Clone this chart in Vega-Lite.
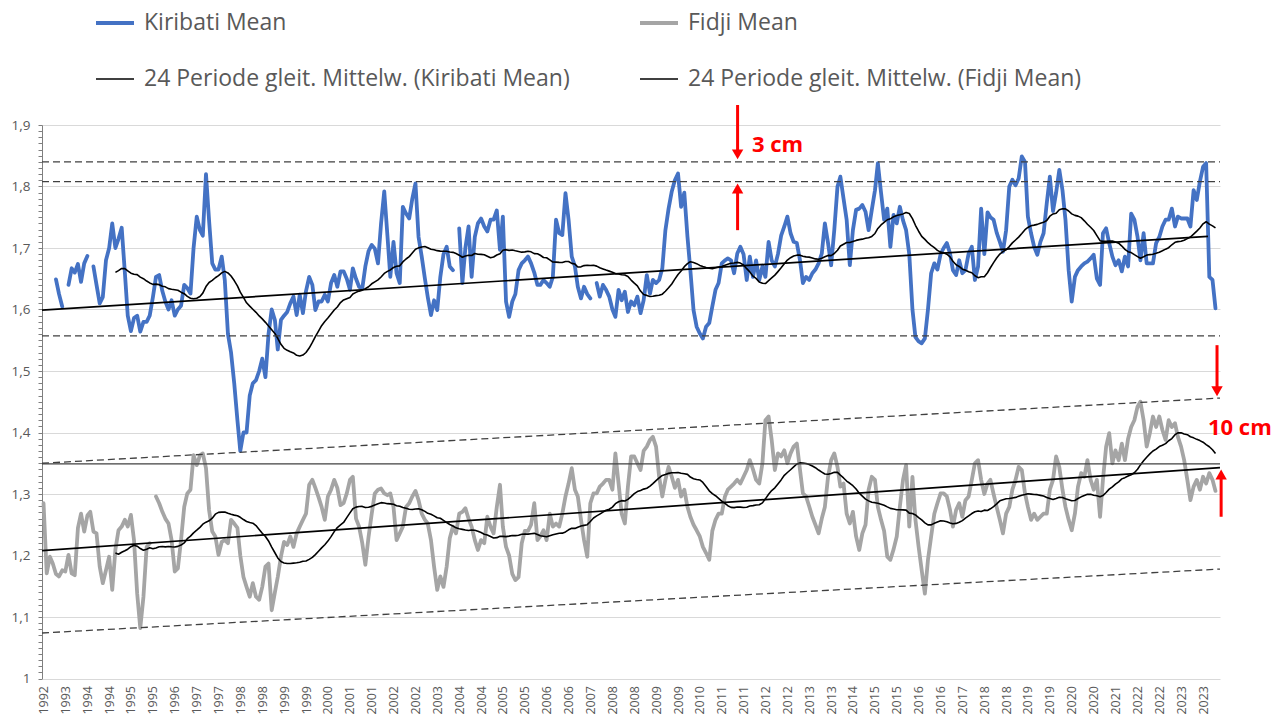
{
  "$schema": "https://vega.github.io/schema/vega-lite/v6.json",
  "autosize": {"type": "none"},
  "width": 1178,
  "height": 553.5,
  "padding": {"left": 42, "top": 125, "right": 63, "bottom": 46.5},
  "background": "white",
  "config": {
    "font": "Open Sans",
    "view": {"stroke": null},
    "legend": {
      "symbolType": "stroke",
      "symbolSize": 1444,
      "labelFontSize": 23,
      "labelFont": "Open Sans",
      "labelColor": "#595959",
      "labelLimit": 0,
      "columnPadding": 62,
      "rowPadding": 24,
      "labelOffset": 8,
      "symbolOpacity": 1
    }
  },
  "datasets": {
    "sea": [
      {"d":"1992-12-01","Kiribati Mean":null,"Fidji Mean":1.285},
      {"d":"1993-01-01","Kiribati Mean":null,"Fidji Mean":1.171},
      {"d":"1993-02-01","Kiribati Mean":null,"Fidji Mean":1.198},
      {"d":"1993-03-01","Kiribati Mean":null,"Fidji Mean":1.187},
      {"d":"1993-04-01","Kiribati Mean":1.649,"Fidji Mean":1.170},
      {"d":"1993-05-01","Kiribati Mean":1.625,"Fidji Mean":1.166},
      {"d":"1993-06-01","Kiribati Mean":1.605,"Fidji Mean":1.176},
      {"d":"1993-07-01","Kiribati Mean":null,"Fidji Mean":1.174},
      {"d":"1993-08-01","Kiribati Mean":1.640,"Fidji Mean":1.201},
      {"d":"1993-09-01","Kiribati Mean":1.667,"Fidji Mean":1.171},
      {"d":"1993-10-01","Kiribati Mean":1.660,"Fidji Mean":1.168},
      {"d":"1993-11-01","Kiribati Mean":1.674,"Fidji Mean":1.245},
      {"d":"1993-12-01","Kiribati Mean":1.645,"Fidji Mean":1.268},
      {"d":"1994-01-01","Kiribati Mean":1.675,"Fidji Mean":1.239},
      {"d":"1994-02-01","Kiribati Mean":1.687,"Fidji Mean":1.265},
      {"d":"1994-03-01","Kiribati Mean":null,"Fidji Mean":1.271},
      {"d":"1994-04-01","Kiribati Mean":1.670,"Fidji Mean":1.239},
      {"d":"1994-05-01","Kiribati Mean":1.640,"Fidji Mean":1.236},
      {"d":"1994-06-01","Kiribati Mean":1.610,"Fidji Mean":1.182},
      {"d":"1994-07-01","Kiribati Mean":1.620,"Fidji Mean":1.155},
      {"d":"1994-08-01","Kiribati Mean":1.680,"Fidji Mean":1.176},
      {"d":"1994-09-01","Kiribati Mean":1.700,"Fidji Mean":1.198},
      {"d":"1994-10-01","Kiribati Mean":1.740,"Fidji Mean":1.144},
      {"d":"1994-11-01","Kiribati Mean":1.700,"Fidji Mean":1.210},
      {"d":"1994-12-01","Kiribati Mean":1.715,"Fidji Mean":1.241},
      {"d":"1995-01-01","Kiribati Mean":1.733,"Fidji Mean":1.247},
      {"d":"1995-02-01","Kiribati Mean":1.660,"Fidji Mean":1.258},
      {"d":"1995-03-01","Kiribati Mean":1.590,"Fidji Mean":1.247},
      {"d":"1995-04-01","Kiribati Mean":1.565,"Fidji Mean":1.266},
      {"d":"1995-05-01","Kiribati Mean":1.586,"Fidji Mean":1.225},
      {"d":"1995-06-01","Kiribati Mean":1.590,"Fidji Mean":1.138},
      {"d":"1995-07-01","Kiribati Mean":1.564,"Fidji Mean":1.082},
      {"d":"1995-08-01","Kiribati Mean":1.580,"Fidji Mean":1.133},
      {"d":"1995-09-01","Kiribati Mean":1.580,"Fidji Mean":1.214},
      {"d":"1995-10-01","Kiribati Mean":1.590,"Fidji Mean":1.220},
      {"d":"1995-11-01","Kiribati Mean":1.620,"Fidji Mean":null},
      {"d":"1995-12-01","Kiribati Mean":1.653,"Fidji Mean":1.296},
      {"d":"1996-01-01","Kiribati Mean":1.656,"Fidji Mean":1.285},
      {"d":"1996-02-01","Kiribati Mean":1.630,"Fidji Mean":1.271},
      {"d":"1996-03-01","Kiribati Mean":1.613,"Fidji Mean":1.260},
      {"d":"1996-04-01","Kiribati Mean":1.600,"Fidji Mean":1.252},
      {"d":"1996-05-01","Kiribati Mean":1.615,"Fidji Mean":1.225},
      {"d":"1996-06-01","Kiribati Mean":1.590,"Fidji Mean":1.174},
      {"d":"1996-07-01","Kiribati Mean":1.600,"Fidji Mean":1.179},
      {"d":"1996-08-01","Kiribati Mean":1.606,"Fidji Mean":1.225},
      {"d":"1996-09-01","Kiribati Mean":1.640,"Fidji Mean":1.279},
      {"d":"1996-10-01","Kiribati Mean":1.635,"Fidji Mean":1.301},
      {"d":"1996-11-01","Kiribati Mean":1.626,"Fidji Mean":1.307},
      {"d":"1996-12-01","Kiribati Mean":1.700,"Fidji Mean":1.363},
      {"d":"1997-01-01","Kiribati Mean":1.751,"Fidji Mean":1.347},
      {"d":"1997-02-01","Kiribati Mean":1.729,"Fidji Mean":1.363},
      {"d":"1997-03-01","Kiribati Mean":1.720,"Fidji Mean":1.366},
      {"d":"1997-04-01","Kiribati Mean":1.820,"Fidji Mean":1.342},
      {"d":"1997-05-01","Kiribati Mean":1.745,"Fidji Mean":1.274},
      {"d":"1997-06-01","Kiribati Mean":1.675,"Fidji Mean":1.239},
      {"d":"1997-07-01","Kiribati Mean":1.665,"Fidji Mean":1.231},
      {"d":"1997-08-01","Kiribati Mean":1.665,"Fidji Mean":1.201},
      {"d":"1997-09-01","Kiribati Mean":1.686,"Fidji Mean":1.222},
      {"d":"1997-10-01","Kiribati Mean":1.648,"Fidji Mean":1.225},
      {"d":"1997-11-01","Kiribati Mean":1.560,"Fidji Mean":1.220},
      {"d":"1997-12-01","Kiribati Mean":1.530,"Fidji Mean":1.258},
      {"d":"1998-01-01","Kiribati Mean":1.480,"Fidji Mean":1.252},
      {"d":"1998-02-01","Kiribati Mean":1.420,"Fidji Mean":1.245},
      {"d":"1998-03-01","Kiribati Mean":1.370,"Fidji Mean":1.200},
      {"d":"1998-04-01","Kiribati Mean":1.400,"Fidji Mean":1.165},
      {"d":"1998-05-01","Kiribati Mean":1.400,"Fidji Mean":1.149},
      {"d":"1998-06-01","Kiribati Mean":1.460,"Fidji Mean":1.133},
      {"d":"1998-07-01","Kiribati Mean":1.480,"Fidji Mean":1.155},
      {"d":"1998-08-01","Kiribati Mean":1.485,"Fidji Mean":1.133},
      {"d":"1998-09-01","Kiribati Mean":1.500,"Fidji Mean":1.128},
      {"d":"1998-10-01","Kiribati Mean":1.520,"Fidji Mean":1.149},
      {"d":"1998-11-01","Kiribati Mean":1.490,"Fidji Mean":1.182},
      {"d":"1998-12-01","Kiribati Mean":1.560,"Fidji Mean":1.187},
      {"d":"1999-01-01","Kiribati Mean":1.600,"Fidji Mean":1.111},
      {"d":"1999-02-01","Kiribati Mean":1.583,"Fidji Mean":1.140},
      {"d":"1999-03-01","Kiribati Mean":1.535,"Fidji Mean":1.165},
      {"d":"1999-04-01","Kiribati Mean":1.583,"Fidji Mean":1.198},
      {"d":"1999-05-01","Kiribati Mean":1.590,"Fidji Mean":1.222},
      {"d":"1999-06-01","Kiribati Mean":1.596,"Fidji Mean":1.217},
      {"d":"1999-07-01","Kiribati Mean":1.610,"Fidji Mean":1.231},
      {"d":"1999-08-01","Kiribati Mean":1.621,"Fidji Mean":1.214},
      {"d":"1999-09-01","Kiribati Mean":1.591,"Fidji Mean":1.236},
      {"d":"1999-10-01","Kiribati Mean":1.624,"Fidji Mean":1.247},
      {"d":"1999-11-01","Kiribati Mean":1.594,"Fidji Mean":1.258},
      {"d":"1999-12-01","Kiribati Mean":1.630,"Fidji Mean":1.268},
      {"d":"2000-01-01","Kiribati Mean":1.653,"Fidji Mean":1.315},
      {"d":"2000-02-01","Kiribati Mean":1.640,"Fidji Mean":1.323},
      {"d":"2000-03-01","Kiribati Mean":1.599,"Fidji Mean":1.310},
      {"d":"2000-04-01","Kiribati Mean":1.613,"Fidji Mean":1.295},
      {"d":"2000-05-01","Kiribati Mean":1.613,"Fidji Mean":1.279},
      {"d":"2000-06-01","Kiribati Mean":1.624,"Fidji Mean":1.258},
      {"d":"2000-07-01","Kiribati Mean":1.613,"Fidji Mean":1.296},
      {"d":"2000-08-01","Kiribati Mean":1.643,"Fidji Mean":1.307},
      {"d":"2000-09-01","Kiribati Mean":1.656,"Fidji Mean":1.323},
      {"d":"2000-10-01","Kiribati Mean":1.637,"Fidji Mean":1.310},
      {"d":"2000-11-01","Kiribati Mean":1.662,"Fidji Mean":1.282},
      {"d":"2000-12-01","Kiribati Mean":1.662,"Fidji Mean":1.285},
      {"d":"2001-01-01","Kiribati Mean":1.650,"Fidji Mean":1.301},
      {"d":"2001-02-01","Kiribati Mean":1.632,"Fidji Mean":1.323},
      {"d":"2001-03-01","Kiribati Mean":1.667,"Fidji Mean":1.328},
      {"d":"2001-04-01","Kiribati Mean":1.650,"Fidji Mean":1.260},
      {"d":"2001-05-01","Kiribati Mean":1.637,"Fidji Mean":1.247},
      {"d":"2001-06-01","Kiribati Mean":1.634,"Fidji Mean":1.220},
      {"d":"2001-07-01","Kiribati Mean":1.670,"Fidji Mean":1.185},
      {"d":"2001-08-01","Kiribati Mean":1.695,"Fidji Mean":1.230},
      {"d":"2001-09-01","Kiribati Mean":1.705,"Fidji Mean":1.268},
      {"d":"2001-10-01","Kiribati Mean":1.699,"Fidji Mean":1.301},
      {"d":"2001-11-01","Kiribati Mean":1.675,"Fidji Mean":1.307},
      {"d":"2001-12-01","Kiribati Mean":1.740,"Fidji Mean":1.309},
      {"d":"2002-01-01","Kiribati Mean":1.792,"Fidji Mean":1.301},
      {"d":"2002-02-01","Kiribati Mean":1.720,"Fidji Mean":1.298},
      {"d":"2002-03-01","Kiribati Mean":1.653,"Fidji Mean":1.301},
      {"d":"2002-04-01","Kiribati Mean":1.710,"Fidji Mean":1.279},
      {"d":"2002-05-01","Kiribati Mean":1.659,"Fidji Mean":1.225},
      {"d":"2002-06-01","Kiribati Mean":1.643,"Fidji Mean":1.236},
      {"d":"2002-07-01","Kiribati Mean":1.767,"Fidji Mean":1.247},
      {"d":"2002-08-01","Kiribati Mean":1.756,"Fidji Mean":1.279},
      {"d":"2002-09-01","Kiribati Mean":1.748,"Fidji Mean":1.285},
      {"d":"2002-10-01","Kiribati Mean":1.780,"Fidji Mean":1.296},
      {"d":"2002-11-01","Kiribati Mean":1.805,"Fidji Mean":1.305},
      {"d":"2002-12-01","Kiribati Mean":1.718,"Fidji Mean":1.290},
      {"d":"2003-01-01","Kiribati Mean":1.686,"Fidji Mean":1.268},
      {"d":"2003-02-01","Kiribati Mean":1.650,"Fidji Mean":1.258},
      {"d":"2003-03-01","Kiribati Mean":1.620,"Fidji Mean":1.252},
      {"d":"2003-04-01","Kiribati Mean":1.591,"Fidji Mean":1.225},
      {"d":"2003-05-01","Kiribati Mean":1.615,"Fidji Mean":1.182},
      {"d":"2003-06-01","Kiribati Mean":1.599,"Fidji Mean":1.144},
      {"d":"2003-07-01","Kiribati Mean":1.653,"Fidji Mean":1.166},
      {"d":"2003-08-01","Kiribati Mean":1.690,"Fidji Mean":1.149},
      {"d":"2003-09-01","Kiribati Mean":1.702,"Fidji Mean":1.182},
      {"d":"2003-10-01","Kiribati Mean":1.670,"Fidji Mean":1.228},
      {"d":"2003-11-01","Kiribati Mean":1.664,"Fidji Mean":1.247},
      {"d":"2003-12-01","Kiribati Mean":null,"Fidji Mean":1.236},
      {"d":"2004-01-01","Kiribati Mean":1.732,"Fidji Mean":1.268},
      {"d":"2004-02-01","Kiribati Mean":1.643,"Fidji Mean":1.271},
      {"d":"2004-03-01","Kiribati Mean":1.700,"Fidji Mean":1.277},
      {"d":"2004-04-01","Kiribati Mean":1.735,"Fidji Mean":1.260},
      {"d":"2004-05-01","Kiribati Mean":1.653,"Fidji Mean":1.247},
      {"d":"2004-06-01","Kiribati Mean":1.718,"Fidji Mean":1.225},
      {"d":"2004-07-01","Kiribati Mean":1.740,"Fidji Mean":1.209},
      {"d":"2004-08-01","Kiribati Mean":1.748,"Fidji Mean":1.225},
      {"d":"2004-09-01","Kiribati Mean":1.735,"Fidji Mean":1.220},
      {"d":"2004-10-01","Kiribati Mean":1.727,"Fidji Mean":1.263},
      {"d":"2004-11-01","Kiribati Mean":1.746,"Fidji Mean":1.247},
      {"d":"2004-12-01","Kiribati Mean":1.746,"Fidji Mean":1.236},
      {"d":"2005-01-01","Kiribati Mean":1.761,"Fidji Mean":1.279},
      {"d":"2005-02-01","Kiribati Mean":1.697,"Fidji Mean":1.315},
      {"d":"2005-03-01","Kiribati Mean":1.751,"Fidji Mean":1.247},
      {"d":"2005-04-01","Kiribati Mean":1.613,"Fidji Mean":1.214},
      {"d":"2005-05-01","Kiribati Mean":1.588,"Fidji Mean":1.200},
      {"d":"2005-06-01","Kiribati Mean":1.613,"Fidji Mean":1.170},
      {"d":"2005-07-01","Kiribati Mean":1.625,"Fidji Mean":1.160},
      {"d":"2005-08-01","Kiribati Mean":1.664,"Fidji Mean":1.165},
      {"d":"2005-09-01","Kiribati Mean":1.675,"Fidji Mean":1.220},
      {"d":"2005-10-01","Kiribati Mean":1.680,"Fidji Mean":1.240},
      {"d":"2005-11-01","Kiribati Mean":1.686,"Fidji Mean":1.240},
      {"d":"2005-12-01","Kiribati Mean":1.675,"Fidji Mean":1.250},
      {"d":"2006-01-01","Kiribati Mean":1.660,"Fidji Mean":1.285},
      {"d":"2006-02-01","Kiribati Mean":1.640,"Fidji Mean":1.225},
      {"d":"2006-03-01","Kiribati Mean":1.640,"Fidji Mean":1.231},
      {"d":"2006-04-01","Kiribati Mean":1.648,"Fidji Mean":1.241},
      {"d":"2006-05-01","Kiribati Mean":1.643,"Fidji Mean":1.225},
      {"d":"2006-06-01","Kiribati Mean":1.637,"Fidji Mean":1.268},
      {"d":"2006-07-01","Kiribati Mean":1.653,"Fidji Mean":1.247},
      {"d":"2006-08-01","Kiribati Mean":1.746,"Fidji Mean":1.252},
      {"d":"2006-09-01","Kiribati Mean":1.724,"Fidji Mean":1.247},
      {"d":"2006-10-01","Kiribati Mean":1.721,"Fidji Mean":1.268},
      {"d":"2006-11-01","Kiribati Mean":1.789,"Fidji Mean":1.296},
      {"d":"2006-12-01","Kiribati Mean":1.746,"Fidji Mean":1.317},
      {"d":"2007-01-01","Kiribati Mean":1.686,"Fidji Mean":1.342},
      {"d":"2007-02-01","Kiribati Mean":1.670,"Fidji Mean":1.307},
      {"d":"2007-03-01","Kiribati Mean":1.637,"Fidji Mean":1.296},
      {"d":"2007-04-01","Kiribati Mean":1.618,"Fidji Mean":1.258},
      {"d":"2007-05-01","Kiribati Mean":1.637,"Fidji Mean":1.225},
      {"d":"2007-06-01","Kiribati Mean":1.625,"Fidji Mean":1.198},
      {"d":"2007-07-01","Kiribati Mean":1.618,"Fidji Mean":1.285},
      {"d":"2007-08-01","Kiribati Mean":null,"Fidji Mean":1.301},
      {"d":"2007-09-01","Kiribati Mean":1.643,"Fidji Mean":1.301},
      {"d":"2007-10-01","Kiribati Mean":1.621,"Fidji Mean":1.312},
      {"d":"2007-11-01","Kiribati Mean":1.640,"Fidji Mean":1.317},
      {"d":"2007-12-01","Kiribati Mean":1.632,"Fidji Mean":1.323},
      {"d":"2008-01-01","Kiribati Mean":1.621,"Fidji Mean":1.323},
      {"d":"2008-02-01","Kiribati Mean":1.600,"Fidji Mean":1.307},
      {"d":"2008-03-01","Kiribati Mean":1.588,"Fidji Mean":1.366},
      {"d":"2008-04-01","Kiribati Mean":1.632,"Fidji Mean":1.317},
      {"d":"2008-05-01","Kiribati Mean":1.615,"Fidji Mean":1.268},
      {"d":"2008-06-01","Kiribati Mean":1.629,"Fidji Mean":1.252},
      {"d":"2008-07-01","Kiribati Mean":1.596,"Fidji Mean":1.312},
      {"d":"2008-08-01","Kiribati Mean":1.613,"Fidji Mean":1.361},
      {"d":"2008-09-01","Kiribati Mean":1.607,"Fidji Mean":1.361},
      {"d":"2008-10-01","Kiribati Mean":1.621,"Fidji Mean":1.350},
      {"d":"2008-11-01","Kiribati Mean":1.594,"Fidji Mean":1.339},
      {"d":"2008-12-01","Kiribati Mean":1.615,"Fidji Mean":1.370},
      {"d":"2009-01-01","Kiribati Mean":1.656,"Fidji Mean":1.377},
      {"d":"2009-02-01","Kiribati Mean":1.626,"Fidji Mean":1.388},
      {"d":"2009-03-01","Kiribati Mean":1.648,"Fidji Mean":1.393},
      {"d":"2009-04-01","Kiribati Mean":1.643,"Fidji Mean":1.377},
      {"d":"2009-05-01","Kiribati Mean":1.648,"Fidji Mean":1.328},
      {"d":"2009-06-01","Kiribati Mean":1.667,"Fidji Mean":1.296},
      {"d":"2009-07-01","Kiribati Mean":1.729,"Fidji Mean":1.323},
      {"d":"2009-08-01","Kiribati Mean":1.764,"Fidji Mean":1.344},
      {"d":"2009-09-01","Kiribati Mean":1.792,"Fidji Mean":1.328},
      {"d":"2009-10-01","Kiribati Mean":1.810,"Fidji Mean":1.310},
      {"d":"2009-11-01","Kiribati Mean":1.821,"Fidji Mean":1.323},
      {"d":"2009-12-01","Kiribati Mean":1.767,"Fidji Mean":1.296},
      {"d":"2010-01-01","Kiribati Mean":1.790,"Fidji Mean":1.307},
      {"d":"2010-02-01","Kiribati Mean":1.718,"Fidji Mean":1.279},
      {"d":"2010-03-01","Kiribati Mean":1.664,"Fidji Mean":1.263},
      {"d":"2010-04-01","Kiribati Mean":1.599,"Fidji Mean":1.250},
      {"d":"2010-05-01","Kiribati Mean":1.572,"Fidji Mean":1.241},
      {"d":"2010-06-01","Kiribati Mean":1.561,"Fidji Mean":1.231},
      {"d":"2010-07-01","Kiribati Mean":1.553,"Fidji Mean":1.214},
      {"d":"2010-08-01","Kiribati Mean":1.572,"Fidji Mean":1.204},
      {"d":"2010-09-01","Kiribati Mean":1.578,"Fidji Mean":1.193},
      {"d":"2010-10-01","Kiribati Mean":1.605,"Fidji Mean":1.240},
      {"d":"2010-11-01","Kiribati Mean":1.632,"Fidji Mean":1.258},
      {"d":"2010-12-01","Kiribati Mean":1.643,"Fidji Mean":1.268},
      {"d":"2011-01-01","Kiribati Mean":1.675,"Fidji Mean":1.268},
      {"d":"2011-02-01","Kiribati Mean":1.680,"Fidji Mean":1.296},
      {"d":"2011-03-01","Kiribati Mean":1.683,"Fidji Mean":1.307},
      {"d":"2011-04-01","Kiribati Mean":1.680,"Fidji Mean":1.312},
      {"d":"2011-05-01","Kiribati Mean":1.659,"Fidji Mean":1.317},
      {"d":"2011-06-01","Kiribati Mean":1.691,"Fidji Mean":1.323},
      {"d":"2011-07-01","Kiribati Mean":1.702,"Fidji Mean":1.317},
      {"d":"2011-08-01","Kiribati Mean":1.690,"Fidji Mean":1.328},
      {"d":"2011-09-01","Kiribati Mean":1.648,"Fidji Mean":1.339},
      {"d":"2011-10-01","Kiribati Mean":1.686,"Fidji Mean":1.355},
      {"d":"2011-11-01","Kiribati Mean":1.653,"Fidji Mean":1.340},
      {"d":"2011-12-01","Kiribati Mean":1.680,"Fidji Mean":1.323},
      {"d":"2012-01-01","Kiribati Mean":1.648,"Fidji Mean":1.317},
      {"d":"2012-02-01","Kiribati Mean":1.670,"Fidji Mean":1.350},
      {"d":"2012-03-01","Kiribati Mean":1.653,"Fidji Mean":1.420},
      {"d":"2012-04-01","Kiribati Mean":1.710,"Fidji Mean":1.426},
      {"d":"2012-05-01","Kiribati Mean":1.680,"Fidji Mean":1.388},
      {"d":"2012-06-01","Kiribati Mean":1.670,"Fidji Mean":1.339},
      {"d":"2012-07-01","Kiribati Mean":1.690,"Fidji Mean":1.366},
      {"d":"2012-08-01","Kiribati Mean":1.720,"Fidji Mean":1.361},
      {"d":"2012-09-01","Kiribati Mean":1.735,"Fidji Mean":1.371},
      {"d":"2012-10-01","Kiribati Mean":1.751,"Fidji Mean":1.350},
      {"d":"2012-11-01","Kiribati Mean":1.724,"Fidji Mean":1.366},
      {"d":"2012-12-01","Kiribati Mean":1.710,"Fidji Mean":1.377},
      {"d":"2013-01-01","Kiribati Mean":1.708,"Fidji Mean":1.382},
      {"d":"2013-02-01","Kiribati Mean":1.680,"Fidji Mean":1.339},
      {"d":"2013-03-01","Kiribati Mean":1.643,"Fidji Mean":1.301},
      {"d":"2013-04-01","Kiribati Mean":1.653,"Fidji Mean":1.296},
      {"d":"2013-05-01","Kiribati Mean":1.648,"Fidji Mean":1.280},
      {"d":"2013-06-01","Kiribati Mean":1.659,"Fidji Mean":1.263},
      {"d":"2013-07-01","Kiribati Mean":1.665,"Fidji Mean":1.250},
      {"d":"2013-08-01","Kiribati Mean":1.675,"Fidji Mean":1.236},
      {"d":"2013-09-01","Kiribati Mean":1.691,"Fidji Mean":1.260},
      {"d":"2013-10-01","Kiribati Mean":1.740,"Fidji Mean":1.279},
      {"d":"2013-11-01","Kiribati Mean":1.708,"Fidji Mean":1.328},
      {"d":"2013-12-01","Kiribati Mean":1.672,"Fidji Mean":1.355},
      {"d":"2014-01-01","Kiribati Mean":1.730,"Fidji Mean":1.366},
      {"d":"2014-02-01","Kiribati Mean":1.800,"Fidji Mean":1.344},
      {"d":"2014-03-01","Kiribati Mean":1.816,"Fidji Mean":1.312},
      {"d":"2014-04-01","Kiribati Mean":1.780,"Fidji Mean":1.317},
      {"d":"2014-05-01","Kiribati Mean":1.746,"Fidji Mean":1.268},
      {"d":"2014-06-01","Kiribati Mean":1.672,"Fidji Mean":1.252},
      {"d":"2014-07-01","Kiribati Mean":1.729,"Fidji Mean":1.271},
      {"d":"2014-08-01","Kiribati Mean":1.762,"Fidji Mean":1.231},
      {"d":"2014-09-01","Kiribati Mean":1.764,"Fidji Mean":1.209},
      {"d":"2014-10-01","Kiribati Mean":1.770,"Fidji Mean":1.236},
      {"d":"2014-11-01","Kiribati Mean":1.759,"Fidji Mean":1.250},
      {"d":"2014-12-01","Kiribati Mean":1.729,"Fidji Mean":1.307},
      {"d":"2015-01-01","Kiribati Mean":1.762,"Fidji Mean":1.328},
      {"d":"2015-02-01","Kiribati Mean":1.794,"Fidji Mean":1.323},
      {"d":"2015-03-01","Kiribati Mean":1.838,"Fidji Mean":1.279},
      {"d":"2015-04-01","Kiribati Mean":1.790,"Fidji Mean":1.258},
      {"d":"2015-05-01","Kiribati Mean":1.746,"Fidji Mean":1.240},
      {"d":"2015-06-01","Kiribati Mean":1.764,"Fidji Mean":1.198},
      {"d":"2015-07-01","Kiribati Mean":1.702,"Fidji Mean":1.193},
      {"d":"2015-08-01","Kiribati Mean":1.754,"Fidji Mean":1.210},
      {"d":"2015-09-01","Kiribati Mean":1.740,"Fidji Mean":1.231},
      {"d":"2015-10-01","Kiribati Mean":1.767,"Fidji Mean":1.279},
      {"d":"2015-11-01","Kiribati Mean":1.745,"Fidji Mean":1.323},
      {"d":"2015-12-01","Kiribati Mean":1.729,"Fidji Mean":1.347},
      {"d":"2016-01-01","Kiribati Mean":1.690,"Fidji Mean":1.247},
      {"d":"2016-02-01","Kiribati Mean":1.600,"Fidji Mean":1.328},
      {"d":"2016-03-01","Kiribati Mean":1.555,"Fidji Mean":1.258},
      {"d":"2016-04-01","Kiribati Mean":1.548,"Fidji Mean":1.214},
      {"d":"2016-05-01","Kiribati Mean":1.545,"Fidji Mean":1.176},
      {"d":"2016-06-01","Kiribati Mean":1.553,"Fidji Mean":1.138},
      {"d":"2016-07-01","Kiribati Mean":1.600,"Fidji Mean":1.193},
      {"d":"2016-08-01","Kiribati Mean":1.659,"Fidji Mean":1.231},
      {"d":"2016-09-01","Kiribati Mean":1.675,"Fidji Mean":1.268},
      {"d":"2016-10-01","Kiribati Mean":1.665,"Fidji Mean":1.285},
      {"d":"2016-11-01","Kiribati Mean":1.690,"Fidji Mean":1.301},
      {"d":"2016-12-01","Kiribati Mean":1.700,"Fidji Mean":1.301},
      {"d":"2017-01-01","Kiribati Mean":1.708,"Fidji Mean":1.296},
      {"d":"2017-02-01","Kiribati Mean":1.691,"Fidji Mean":1.274},
      {"d":"2017-03-01","Kiribati Mean":1.664,"Fidji Mean":1.247},
      {"d":"2017-04-01","Kiribati Mean":1.656,"Fidji Mean":1.274},
      {"d":"2017-05-01","Kiribati Mean":1.680,"Fidji Mean":1.285},
      {"d":"2017-06-01","Kiribati Mean":1.659,"Fidji Mean":1.263},
      {"d":"2017-07-01","Kiribati Mean":1.664,"Fidji Mean":1.290},
      {"d":"2017-08-01","Kiribati Mean":1.691,"Fidji Mean":1.296},
      {"d":"2017-09-01","Kiribati Mean":1.702,"Fidji Mean":1.323},
      {"d":"2017-10-01","Kiribati Mean":1.648,"Fidji Mean":1.350},
      {"d":"2017-11-01","Kiribati Mean":1.670,"Fidji Mean":1.355},
      {"d":"2017-12-01","Kiribati Mean":1.764,"Fidji Mean":1.323},
      {"d":"2018-01-01","Kiribati Mean":1.690,"Fidji Mean":1.300},
      {"d":"2018-02-01","Kiribati Mean":1.758,"Fidji Mean":1.317},
      {"d":"2018-03-01","Kiribati Mean":1.750,"Fidji Mean":1.323},
      {"d":"2018-04-01","Kiribati Mean":1.746,"Fidji Mean":1.300},
      {"d":"2018-05-01","Kiribati Mean":1.725,"Fidji Mean":1.279},
      {"d":"2018-06-01","Kiribati Mean":1.710,"Fidji Mean":1.258},
      {"d":"2018-07-01","Kiribati Mean":1.694,"Fidji Mean":1.236},
      {"d":"2018-08-01","Kiribati Mean":1.729,"Fidji Mean":1.268},
      {"d":"2018-09-01","Kiribati Mean":1.800,"Fidji Mean":1.279},
      {"d":"2018-10-01","Kiribati Mean":1.811,"Fidji Mean":1.307},
      {"d":"2018-11-01","Kiribati Mean":1.802,"Fidji Mean":1.323},
      {"d":"2018-12-01","Kiribati Mean":1.813,"Fidji Mean":1.344},
      {"d":"2019-01-01","Kiribati Mean":1.849,"Fidji Mean":1.339},
      {"d":"2019-02-01","Kiribati Mean":1.840,"Fidji Mean":1.301},
      {"d":"2019-03-01","Kiribati Mean":1.751,"Fidji Mean":1.279},
      {"d":"2019-04-01","Kiribati Mean":1.724,"Fidji Mean":1.258},
      {"d":"2019-05-01","Kiribati Mean":1.702,"Fidji Mean":1.268},
      {"d":"2019-06-01","Kiribati Mean":1.689,"Fidji Mean":1.258},
      {"d":"2019-07-01","Kiribati Mean":1.710,"Fidji Mean":1.263},
      {"d":"2019-08-01","Kiribati Mean":1.724,"Fidji Mean":1.268},
      {"d":"2019-09-01","Kiribati Mean":1.773,"Fidji Mean":1.268},
      {"d":"2019-10-01","Kiribati Mean":1.816,"Fidji Mean":1.307},
      {"d":"2019-11-01","Kiribati Mean":1.760,"Fidji Mean":1.323},
      {"d":"2019-12-01","Kiribati Mean":1.790,"Fidji Mean":1.361},
      {"d":"2020-01-01","Kiribati Mean":1.827,"Fidji Mean":1.344},
      {"d":"2020-02-01","Kiribati Mean":1.794,"Fidji Mean":1.307},
      {"d":"2020-03-01","Kiribati Mean":1.746,"Fidji Mean":1.279},
      {"d":"2020-04-01","Kiribati Mean":1.664,"Fidji Mean":1.258},
      {"d":"2020-05-01","Kiribati Mean":1.613,"Fidji Mean":1.241},
      {"d":"2020-06-01","Kiribati Mean":1.653,"Fidji Mean":1.268},
      {"d":"2020-07-01","Kiribati Mean":1.664,"Fidji Mean":1.312},
      {"d":"2020-08-01","Kiribati Mean":1.670,"Fidji Mean":1.334},
      {"d":"2020-09-01","Kiribati Mean":1.675,"Fidji Mean":1.328},
      {"d":"2020-10-01","Kiribati Mean":1.678,"Fidji Mean":1.355},
      {"d":"2020-11-01","Kiribati Mean":1.683,"Fidji Mean":1.323},
      {"d":"2020-12-01","Kiribati Mean":1.689,"Fidji Mean":1.307},
      {"d":"2021-01-01","Kiribati Mean":1.650,"Fidji Mean":1.323},
      {"d":"2021-02-01","Kiribati Mean":1.640,"Fidji Mean":1.263},
      {"d":"2021-03-01","Kiribati Mean":1.724,"Fidji Mean":1.323},
      {"d":"2021-04-01","Kiribati Mean":1.732,"Fidji Mean":1.377},
      {"d":"2021-05-01","Kiribati Mean":1.708,"Fidji Mean":1.399},
      {"d":"2021-06-01","Kiribati Mean":1.686,"Fidji Mean":1.350},
      {"d":"2021-07-01","Kiribati Mean":1.672,"Fidji Mean":1.371},
      {"d":"2021-08-01","Kiribati Mean":1.680,"Fidji Mean":1.355},
      {"d":"2021-09-01","Kiribati Mean":1.662,"Fidji Mean":1.382},
      {"d":"2021-10-01","Kiribati Mean":1.686,"Fidji Mean":1.355},
      {"d":"2021-11-01","Kiribati Mean":1.670,"Fidji Mean":1.390},
      {"d":"2021-12-01","Kiribati Mean":1.756,"Fidji Mean":1.409},
      {"d":"2022-01-01","Kiribati Mean":1.746,"Fidji Mean":1.420},
      {"d":"2022-02-01","Kiribati Mean":1.718,"Fidji Mean":1.442},
      {"d":"2022-03-01","Kiribati Mean":1.680,"Fidji Mean":1.450},
      {"d":"2022-04-01","Kiribati Mean":1.724,"Fidji Mean":1.420},
      {"d":"2022-05-01","Kiribati Mean":1.675,"Fidji Mean":1.377},
      {"d":"2022-06-01","Kiribati Mean":1.675,"Fidji Mean":1.399},
      {"d":"2022-07-01","Kiribati Mean":1.675,"Fidji Mean":1.426},
      {"d":"2022-08-01","Kiribati Mean":1.708,"Fidji Mean":1.409},
      {"d":"2022-09-01","Kiribati Mean":1.718,"Fidji Mean":1.426},
      {"d":"2022-10-01","Kiribati Mean":1.735,"Fidji Mean":1.404},
      {"d":"2022-11-01","Kiribati Mean":1.746,"Fidji Mean":1.388},
      {"d":"2022-12-01","Kiribati Mean":1.746,"Fidji Mean":1.420},
      {"d":"2023-01-01","Kiribati Mean":1.764,"Fidji Mean":1.409},
      {"d":"2023-02-01","Kiribati Mean":1.735,"Fidji Mean":1.415},
      {"d":"2023-03-01","Kiribati Mean":1.751,"Fidji Mean":1.393},
      {"d":"2023-04-01","Kiribati Mean":1.748,"Fidji Mean":1.377},
      {"d":"2023-05-01","Kiribati Mean":1.748,"Fidji Mean":1.355},
      {"d":"2023-06-01","Kiribati Mean":1.748,"Fidji Mean":1.323},
      {"d":"2023-07-01","Kiribati Mean":1.735,"Fidji Mean":1.290},
      {"d":"2023-08-01","Kiribati Mean":1.794,"Fidji Mean":1.312},
      {"d":"2023-09-01","Kiribati Mean":1.778,"Fidji Mean":1.323},
      {"d":"2023-10-01","Kiribati Mean":1.808,"Fidji Mean":1.307},
      {"d":"2023-11-01","Kiribati Mean":1.832,"Fidji Mean":1.328},
      {"d":"2023-12-01","Kiribati Mean":1.838,"Fidji Mean":1.317},
      {"d":"2024-01-01","Kiribati Mean":1.653,"Fidji Mean":1.334},
      {"d":"2024-02-01","Kiribati Mean":1.648,"Fidji Mean":1.323},
      {"d":"2024-03-01","Kiribati Mean":1.602,"Fidji Mean":1.305}
    ],
    "dashed": [
      {"id":"k1","d":"1992-11-16","v":1.840},{"id":"k1","d":"2024-04-14","v":1.840},
      {"id":"k2","d":"1992-11-16","v":1.808},{"id":"k2","d":"2024-04-14","v":1.808},
      {"id":"k3","d":"1992-11-16","v":1.557},{"id":"k3","d":"2024-04-14","v":1.557},
      {"id":"f1","d":"1992-11-16","v":1.350},{"id":"f1","d":"2024-04-14","v":1.456},
      {"id":"f2","d":"1992-11-16","v":1.074},{"id":"f2","d":"2024-04-14","v":1.178}
    ],
    "solid": [
      {"id":"kt","d":"1992-11-16","v":1.599},{"id":"kt","d":"2023-12-19","v":1.719},
      {"id":"ft","d":"1992-11-16","v":1.208},{"id":"ft","d":"2024-04-14","v":1.343}
    ],
    "flat": [
      {"id":"fh","d":"1992-11-16","v":1.349},{"id":"fh","d":"2024-04-14","v":1.349}
    ],
    "shafts": [
      {"d":"2011-06-04","v":1.9325,"v2":1.857},
      {"d":"2011-06-04","v":1.791,"v2":1.729},
      {"d":"2024-03-16","v":1.542,"v2":1.472},
      {"d":"2024-04-25","v":1.326,"v2":1.263}
    ],
    "heads": [
      {"d":"2011-06-04","v":1.8523,"dir":"down"},
      {"d":"2011-06-04","v":1.7967,"dir":"up"},
      {"d":"2024-03-16","v":1.467,"dir":"down"},
      {"d":"2024-04-25","v":1.3317,"dir":"up"}
    ],
    "notes": [
      {"d":"2011-10-22","v":1.867,"t":"3 cm"},
      {"d":"2023-12-19","v":1.408,"t":"10 cm"}
    ]
  },
  "encoding": {
    "x": {
      "field": "d",
      "type": "temporal",
      "title": null,
      "scale": {"type": "utc", "domain": [{"year":1992,"month":11,"date":16,"utc":true},{"year":2024,"month":4,"date":14,"utc":true}]},
      "axis": {
        "values": [
          {"year":1992,"month":12,"date":1,"utc":true},{"year":1993,"month":7,"date":1,"utc":true},{"year":1994,"month":2,"date":1,"utc":true},{"year":1994,"month":9,"date":1,"utc":true},
          {"year":1995,"month":4,"date":1,"utc":true},{"year":1995,"month":11,"date":1,"utc":true},{"year":1996,"month":6,"date":1,"utc":true},{"year":1997,"month":1,"date":1,"utc":true},
          {"year":1997,"month":8,"date":1,"utc":true},{"year":1998,"month":3,"date":1,"utc":true},{"year":1998,"month":10,"date":1,"utc":true},{"year":1999,"month":5,"date":1,"utc":true},
          {"year":1999,"month":12,"date":1,"utc":true},{"year":2000,"month":7,"date":1,"utc":true},{"year":2001,"month":2,"date":1,"utc":true},{"year":2001,"month":9,"date":1,"utc":true},
          {"year":2002,"month":4,"date":1,"utc":true},{"year":2002,"month":11,"date":1,"utc":true},{"year":2003,"month":6,"date":1,"utc":true},{"year":2004,"month":1,"date":1,"utc":true},
          {"year":2004,"month":8,"date":1,"utc":true},{"year":2005,"month":3,"date":1,"utc":true},{"year":2005,"month":10,"date":1,"utc":true},{"year":2006,"month":5,"date":1,"utc":true},
          {"year":2006,"month":12,"date":1,"utc":true},{"year":2007,"month":7,"date":1,"utc":true},{"year":2008,"month":2,"date":1,"utc":true},{"year":2008,"month":9,"date":1,"utc":true},
          {"year":2009,"month":4,"date":1,"utc":true},{"year":2009,"month":11,"date":1,"utc":true},{"year":2010,"month":6,"date":1,"utc":true},{"year":2011,"month":1,"date":1,"utc":true},
          {"year":2011,"month":8,"date":1,"utc":true},{"year":2012,"month":3,"date":1,"utc":true},{"year":2012,"month":10,"date":1,"utc":true},{"year":2013,"month":5,"date":1,"utc":true},
          {"year":2013,"month":12,"date":1,"utc":true},{"year":2014,"month":7,"date":1,"utc":true},{"year":2015,"month":2,"date":1,"utc":true},{"year":2015,"month":9,"date":1,"utc":true},
          {"year":2016,"month":4,"date":1,"utc":true},{"year":2016,"month":11,"date":1,"utc":true},{"year":2017,"month":6,"date":1,"utc":true},{"year":2018,"month":1,"date":1,"utc":true},
          {"year":2018,"month":8,"date":1,"utc":true},{"year":2019,"month":3,"date":1,"utc":true},{"year":2019,"month":10,"date":1,"utc":true},{"year":2020,"month":5,"date":1,"utc":true},
          {"year":2020,"month":12,"date":1,"utc":true},{"year":2021,"month":7,"date":1,"utc":true},{"year":2022,"month":2,"date":1,"utc":true},{"year":2022,"month":9,"date":1,"utc":true},
          {"year":2023,"month":4,"date":1,"utc":true},{"year":2023,"month":11,"date":1,"utc":true}
        ],
        "labelExpr": "utcFormat(datum.value, '%Y')",
        "labelAngle": 270,
        "labelFontSize": 12.5,
        "labelColor": "#595959",
        "labelPadding": 7,
        "labelOverlap": false,
        "labelBound": false,
        "labelFlush": false,
        "ticks": false,
        "domain": false,
        "grid": false
      }
    },
    "y": {
      "field": "v",
      "type": "quantitative",
      "title": null,
      "scale": {"domain": [1, 1.9], "nice": false, "zero": false},
      "axis": {
        "values": [1,1.01,1.02,1.03,1.04,1.05,1.06,1.07,1.08,1.09,1.1,1.11,1.12,1.13,1.14,1.15,1.16,1.17,1.18,1.19,1.2,1.21,1.22,1.23,1.24,1.25,1.26,1.27,1.28,1.29,1.3,1.31,1.32,1.33,1.34,1.35,1.36,1.37,1.38,1.39,1.4,1.41,1.42,1.43,1.44,1.45,1.46,1.47,1.48,1.49,1.5,1.51,1.52,1.53,1.54,1.55,1.56,1.57,1.58,1.59,1.6,1.61,1.62,1.63,1.64,1.65,1.66,1.67,1.68,1.69,1.7,1.71,1.72,1.73,1.74,1.75,1.76,1.77,1.78,1.79,1.8,1.81,1.82,1.83,1.84,1.85,1.86,1.87,1.88,1.89,1.9],
        "labelExpr": "abs(datum.value*10 - round(datum.value*10)) < 0.001 ? replace(format(datum.value, '.1~f'), '.', ',') : ''",
        "grid": true,
        "gridColor": "#D9D9D9",
        "gridWidth": 1,
        "gridOpacity": {"condition": {"test": "abs(datum.value*10 - round(datum.value*10)) < 0.001", "value": 1}, "value": 0},
        "domain": true,
        "domainColor": "#7F7F7F",
        "ticks": true,
        "tickSize": 4,
        "tickColor": "#7F7F7F",
        "labelFontSize": 13.5,
        "labelColor": "#595959",
        "labelPadding": 8,
        "labelOverlap": false,
        "labelBound": false,
        "labelFlush": false
      }
    }
  },
  "layer": [
    {
      "data": {"name": "sea"},
      "transform": [{"fold": ["Kiribati Mean", "Fidji Mean"], "as": ["series", "v"]}],
      "mark": {"type": "line", "strokeJoin": "round", "strokeCap": "round"},
      "encoding": {
        "color": {
          "field": "series", "type": "nominal",
          "scale": {"type": "ordinal", "domain": ["Kiribati Mean", "Fidji Mean", "24 Periode gleit. Mittelw. (Kiribati Mean)", "24 Periode gleit. Mittelw. (Fidji Mean)"], "range": ["#4472C4", "#A5A5A5", "#000000", "#000000"]},
          "legend": {"title": null, "orient": "none", "legendX": 52, "legendY": -123, "direction": "horizontal", "columns": 2}
        },
        "strokeWidth": {
          "field": "series", "type": "nominal",
          "scale": {"type": "ordinal", "domain": ["Kiribati Mean", "Fidji Mean", "24 Periode gleit. Mittelw. (Kiribati Mean)", "24 Periode gleit. Mittelw. (Fidji Mean)"], "range": [3.8, 3.8, 1.6, 1.6]},
          "legend": {"title": null, "orient": "none", "legendX": 52, "legendY": -123, "direction": "horizontal", "columns": 2}
        },
        "order": {"field": "d", "type": "temporal"}
      }
    },
    {
      "data": {"name": "sea"},
      "transform": [
        {"fold": ["Kiribati Mean", "Fidji Mean"], "as": ["src", "raw"]},
        {"window": [{"op": "mean", "field": "raw", "as": "v"}, {"op": "row_number", "as": "rn"}], "frame": [-23, 0], "groupby": ["src"], "sort": [{"field": "d", "order": "ascending"}]},
        {"filter": "datum.rn >= 24"},
        {"calculate": "'24 Periode gleit. Mittelw. (' + datum.src + ')'", "as": "series"}
      ],
      "mark": {"type": "line", "strokeJoin": "round"},
      "encoding": {
        "color": {
          "field": "series", "type": "nominal",
          "scale": {"type": "ordinal", "domain": ["Kiribati Mean", "Fidji Mean", "24 Periode gleit. Mittelw. (Kiribati Mean)", "24 Periode gleit. Mittelw. (Fidji Mean)"], "range": ["#4472C4", "#A5A5A5", "#000000", "#000000"]},
          "legend": {"title": null, "orient": "none", "legendX": 52, "legendY": -123, "direction": "horizontal", "columns": 2}
        },
        "strokeWidth": {
          "field": "series", "type": "nominal",
          "scale": {"type": "ordinal", "domain": ["Kiribati Mean", "Fidji Mean", "24 Periode gleit. Mittelw. (Kiribati Mean)", "24 Periode gleit. Mittelw. (Fidji Mean)"], "range": [3.8, 3.8, 1.6, 1.6]},
          "legend": {"title": null, "orient": "none", "legendX": 52, "legendY": -123, "direction": "horizontal", "columns": 2}
        },
        "order": {"field": "d", "type": "temporal"}
      }
    },
    {
      "data": {"name": "dashed"},
      "mark": {"type": "line", "color": "#404040", "strokeWidth": 1.3, "strokeDash": [7, 4]},
      "encoding": {"detail": {"field": "id", "type": "nominal"}}
    },
    {
      "data": {"name": "solid"},
      "mark": {"type": "line", "color": "#000000", "strokeWidth": 1.7},
      "encoding": {"detail": {"field": "id", "type": "nominal"}}
    },
    {
      "data": {"name": "flat"},
      "mark": {"type": "line", "color": "#404040", "strokeWidth": 1.3},
      "encoding": {"detail": {"field": "id", "type": "nominal"}}
    },
    {
      "data": {"name": "shafts"},
      "mark": {"type": "rule", "color": "#FF0000", "strokeWidth": 3},
      "encoding": {"y2": {"field": "v2"}}
    },
    {
      "data": {"name": "heads"},
      "mark": {"type": "point", "filled": true, "color": "#FF0000", "opacity": 1, "size": 130},
      "encoding": {
        "shape": {"field": "dir", "type": "nominal", "scale": {"domain": ["down", "up"], "range": ["triangle-down", "triangle-up"]}, "legend": null}
      }
    },
    {
      "data": {"name": "notes"},
      "mark": {"type": "text", "color": "#FF0000", "fontSize": 22, "fontWeight": "bold", "align": "left", "baseline": "middle", "font": "Open Sans"},
      "encoding": {"text": {"field": "t"}}
    }
  ]
}
